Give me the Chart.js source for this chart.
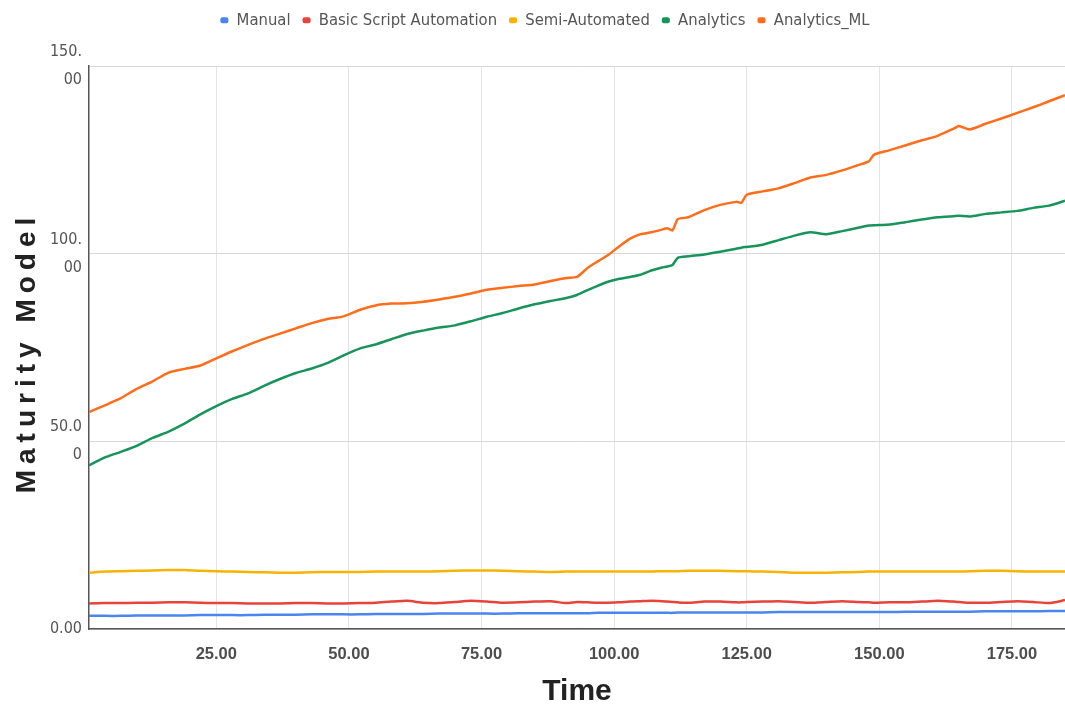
<!DOCTYPE html>
<html>
<head>
<meta charset="utf-8">
<script src="https://cdn.jsdelivr.net/npm/chart.js@4.4.1/dist/chart.umd.min.js"></script>
<style>
  html, body { margin: 0; padding: 0; background: #fff; }
  #wrap { width: 1065px; height: 710px; }
</style>
</head>
<body>
<div id="wrap"><canvas id="chart"></canvas></div>
<script>
// time points
const times = [1, 4, 7, 10, 13, 16, 19, 22, 25, 28, 31, 34, 37, 40, 43, 46, 49, 52, 55, 58,
  61, 64, 67, 70, 73, 76, 79, 82, 85, 88, 91, 93, 95, 97, 99, 101, 103, 105, 107, 109,
  110, 111, 112, 114, 117, 120, 123, 124, 125, 128, 131, 134, 137, 140, 143, 146, 148, 149,
  152, 155, 158, 161, 164, 165, 167, 170, 173, 176, 179, 182, 185];

const manual = [3.5, 3.5, 3.5, 3.6, 3.6, 3.6, 3.6, 3.7, 3.7, 3.7, 3.7, 3.8, 3.8, 3.8, 3.9, 3.9, 3.9, 3.9, 4.0, 4.0,
  4.0, 4.0, 4.1, 4.1, 4.1, 4.1, 4.1, 4.2, 4.2, 4.2, 4.2, 4.2, 4.2, 4.3, 4.3, 4.3, 4.3, 4.3, 4.3, 4.3,
  4.3, 4.3, 4.4, 4.4, 4.4, 4.4, 4.4, 4.4, 4.4, 4.4, 4.5, 4.5, 4.5, 4.5, 4.5, 4.5, 4.5, 4.5,
  4.5, 4.6, 4.6, 4.6, 4.6, 4.6, 4.6, 4.7, 4.7, 4.7, 4.7, 4.8, 4.8];

const basicScript = [6.8, 6.9, 6.9, 7.0, 7.0, 7.1, 7.1, 7.0, 6.9, 6.9, 6.8, 6.8, 6.8, 6.9, 6.9, 6.8, 6.8, 6.9, 7.0, 7.3,
  7.5, 7.0, 6.9, 7.2, 7.5, 7.3, 7.0, 7.1, 7.3, 7.4, 6.9, 7.2, 7.1, 7.0, 7.0, 7.1, 7.3, 7.4, 7.5, 7.4,
  7.3, 7.2, 7.1, 7.0, 7.3, 7.3, 7.1, 7.1, 7.2, 7.3, 7.4, 7.2, 7.0, 7.2, 7.4, 7.2, 7.1, 7.0,
  7.1, 7.1, 7.3, 7.5, 7.3, 7.2, 7.0, 7.0, 7.2, 7.4, 7.2, 6.9, 7.7];

const semiAuto = [15.0, 15.3, 15.4, 15.5, 15.6, 15.7, 15.7, 15.5, 15.4, 15.3, 15.2, 15.1, 15.0, 15.0, 15.1, 15.2, 15.2, 15.2, 15.3, 15.3,
  15.3, 15.3, 15.4, 15.5, 15.6, 15.6, 15.5, 15.4, 15.3, 15.2, 15.3, 15.3, 15.3, 15.3, 15.3, 15.3, 15.3, 15.3, 15.3, 15.4,
  15.4, 15.4, 15.4, 15.5, 15.5, 15.5, 15.4, 15.4, 15.4, 15.3, 15.2, 15.0, 15.0, 15.0, 15.1, 15.2, 15.3, 15.3,
  15.3, 15.3, 15.3, 15.3, 15.3, 15.3, 15.4, 15.5, 15.5, 15.4, 15.3, 15.3, 15.3];

const analytics = [43.6, 45.7, 47.2, 48.8, 50.9, 52.6, 54.7, 57.2, 59.4, 61.3, 62.8, 64.8, 66.6, 68.2, 69.4, 70.9, 72.9, 74.7, 75.8, 77.2,
  78.6, 79.5, 80.3, 80.9, 82.0, 83.2, 84.2, 85.4, 86.5, 87.4, 88.2, 89.0, 90.3, 91.5, 92.6, 93.3, 93.8, 94.4, 95.5, 96.3,
  96.6, 97.0, 98.9, 99.3, 99.8, 100.5, 101.3, 101.6, 101.8, 102.4, 103.6, 104.8, 105.7, 105.2, 106.0, 106.9, 107.5, 107.6,
  107.8, 108.4, 109.1, 109.7, 110.0, 110.1, 109.9, 110.6, 111.0, 111.4, 112.2, 112.8, 114.1];

const analyticsML = [57.8, 59.6, 61.5, 64.0, 66.0, 68.3, 69.3, 70.2, 72.1, 74.0, 75.7, 77.3, 78.7, 80.1, 81.5, 82.6, 83.3, 85.0, 86.2, 86.7,
  86.8, 87.2, 87.8, 88.5, 89.4, 90.4, 90.9, 91.4, 91.8, 92.7, 93.5, 93.8, 96.2, 98.0, 99.8, 102.0, 104.0, 105.2, 105.7, 106.4,
  106.8, 106.2, 109.2, 109.7, 111.6, 113.0, 113.8, 113.6, 115.7, 116.6, 117.4, 118.8, 120.3, 121.0, 122.2, 123.6, 124.6, 126.4,
  127.6, 128.9, 130.2, 131.4, 133.3, 134.0, 133.1, 134.6, 136.0, 137.5, 139.0, 140.6, 142.2];

const seriesNames = ["Manual", "Basic Script Automation", "Semi-Automated", "Analytics", "Analytics_ML"];
const seriesColors = ["#4a86f0", "#e8433a", "#f6b400", "#179459", "#ff6d1a"];
const seriesValues = [manual, basicScript, semiAuto, analytics, analyticsML];

const xTicks = [25, 50, 75, 100, 125, 150, 175];
const yTicks = [0, 50, 100, 150];
const yTickLabels = [["0.00"], ["50.0", "0"], ["100.", "00"], ["150.", "00"]];

const narrow = "'Liberation Sans Narrow', 'DejaVu Sans Condensed', 'Liberation Sans', sans-serif";

// y title drawn by hand so the letters can be spaced out like the original
const yTitle = {
  id: "yTitle",
  afterDraw(chart) {
    const { ctx, chartArea } = chart;
    ctx.save();
    ctx.translate(27, (chartArea.top + chartArea.bottom) / 2 + 5);
    ctx.rotate(-Math.PI / 2);
    ctx.font = "bold 28px 'Liberation Sans', Arial, sans-serif";
    ctx.letterSpacing = "6px";
    ctx.fillStyle = "#222";
    ctx.textAlign = "center";
    ctx.textBaseline = "middle";
    ctx.fillText("Maturity Model", 0, 0);
    ctx.restore();
  }
};

// keep the legend strip tall enough so the plot starts where it does in the picture
const legendHeight = {
  id: "legendHeight",
  beforeLayout(chart) {
    const lg = chart.legend;
    if (lg && !lg._tall) {
      const fit = lg.fit.bind(lg);
      lg.fit = function () { fit(); this.height = 66; };
      lg._tall = true;
    }
  }
};

new Chart(document.getElementById("chart"), {
  type: "line",
  data: {
    datasets: seriesNames.map((name, i) => ({
      label: name,
      data: times.map((t, j) => ({ x: t, y: seriesValues[i][j] })),
      borderColor: seriesColors[i],
      backgroundColor: seriesColors[i],
      borderWidth: 2.5,
      pointRadius: 0,
      tension: 0.2
    }))
  },
  options: {
    responsive: true,
    maintainAspectRatio: false,
    animation: false,
    layout: { padding: { left: 25, right: 0, top: 0, bottom: 0 } },
    plugins: {
      tooltip: { enabled: false },
      legend: {
        position: "top",
        labels: {
          boxWidth: 8,
          boxHeight: 6,
          padding: 12,
          color: "#555",
          font: { family: narrow, size: 16.5 },
          useBorderRadius: true,
          borderRadius: 2,
          generateLabels(chart) {
            return Chart.defaults.plugins.legend.labels.generateLabels(chart)
              .map(l => ({ ...l, lineWidth: 0, fillStyle: l.strokeStyle }));
          }
        }
      }
    },
    scales: {
      x: {
        type: "linear",
        min: 1,
        max: 185,
        afterFit(s) { s.height = 81; },
        afterBuildTicks(s) { s.ticks = xTicks.map(v => ({ value: v })); },
        grid: { color: "#e4e4e4", drawTicks: false },
        border: { color: "#555", width: 1.5 },
        ticks: {
          padding: 16,
          color: "#4d4d4d",
          font: { family: "'Liberation Sans', Arial, sans-serif", size: 16.5, weight: "bold" },
          callback: v => v.toFixed(2)
        },
        title: {
          display: true,
          text: "Time",
          color: "#222",
          padding: 0,
          font: { family: "'Liberation Sans', Arial, sans-serif", size: 30, weight: "bold" }
        }
      },
      y: {
        min: 0,
        max: 150,
        afterFit(s) { s.width = 64; },
        afterBuildTicks(s) { s.ticks = yTicks.map(v => ({ value: v })); },
        grid: { color: "#d8d8d8", drawTicks: false },
        border: { color: "#555", width: 1.5 },
        ticks: {
          padding: 7,
          color: "#555",
          font: { family: narrow, size: 16, lineHeight: 1.75 },
          callback: v => yTickLabels[yTicks.indexOf(v)]
        }
      }
    }
  },
  plugins: [yTitle, legendHeight]
});
</script>
</body>
</html>
